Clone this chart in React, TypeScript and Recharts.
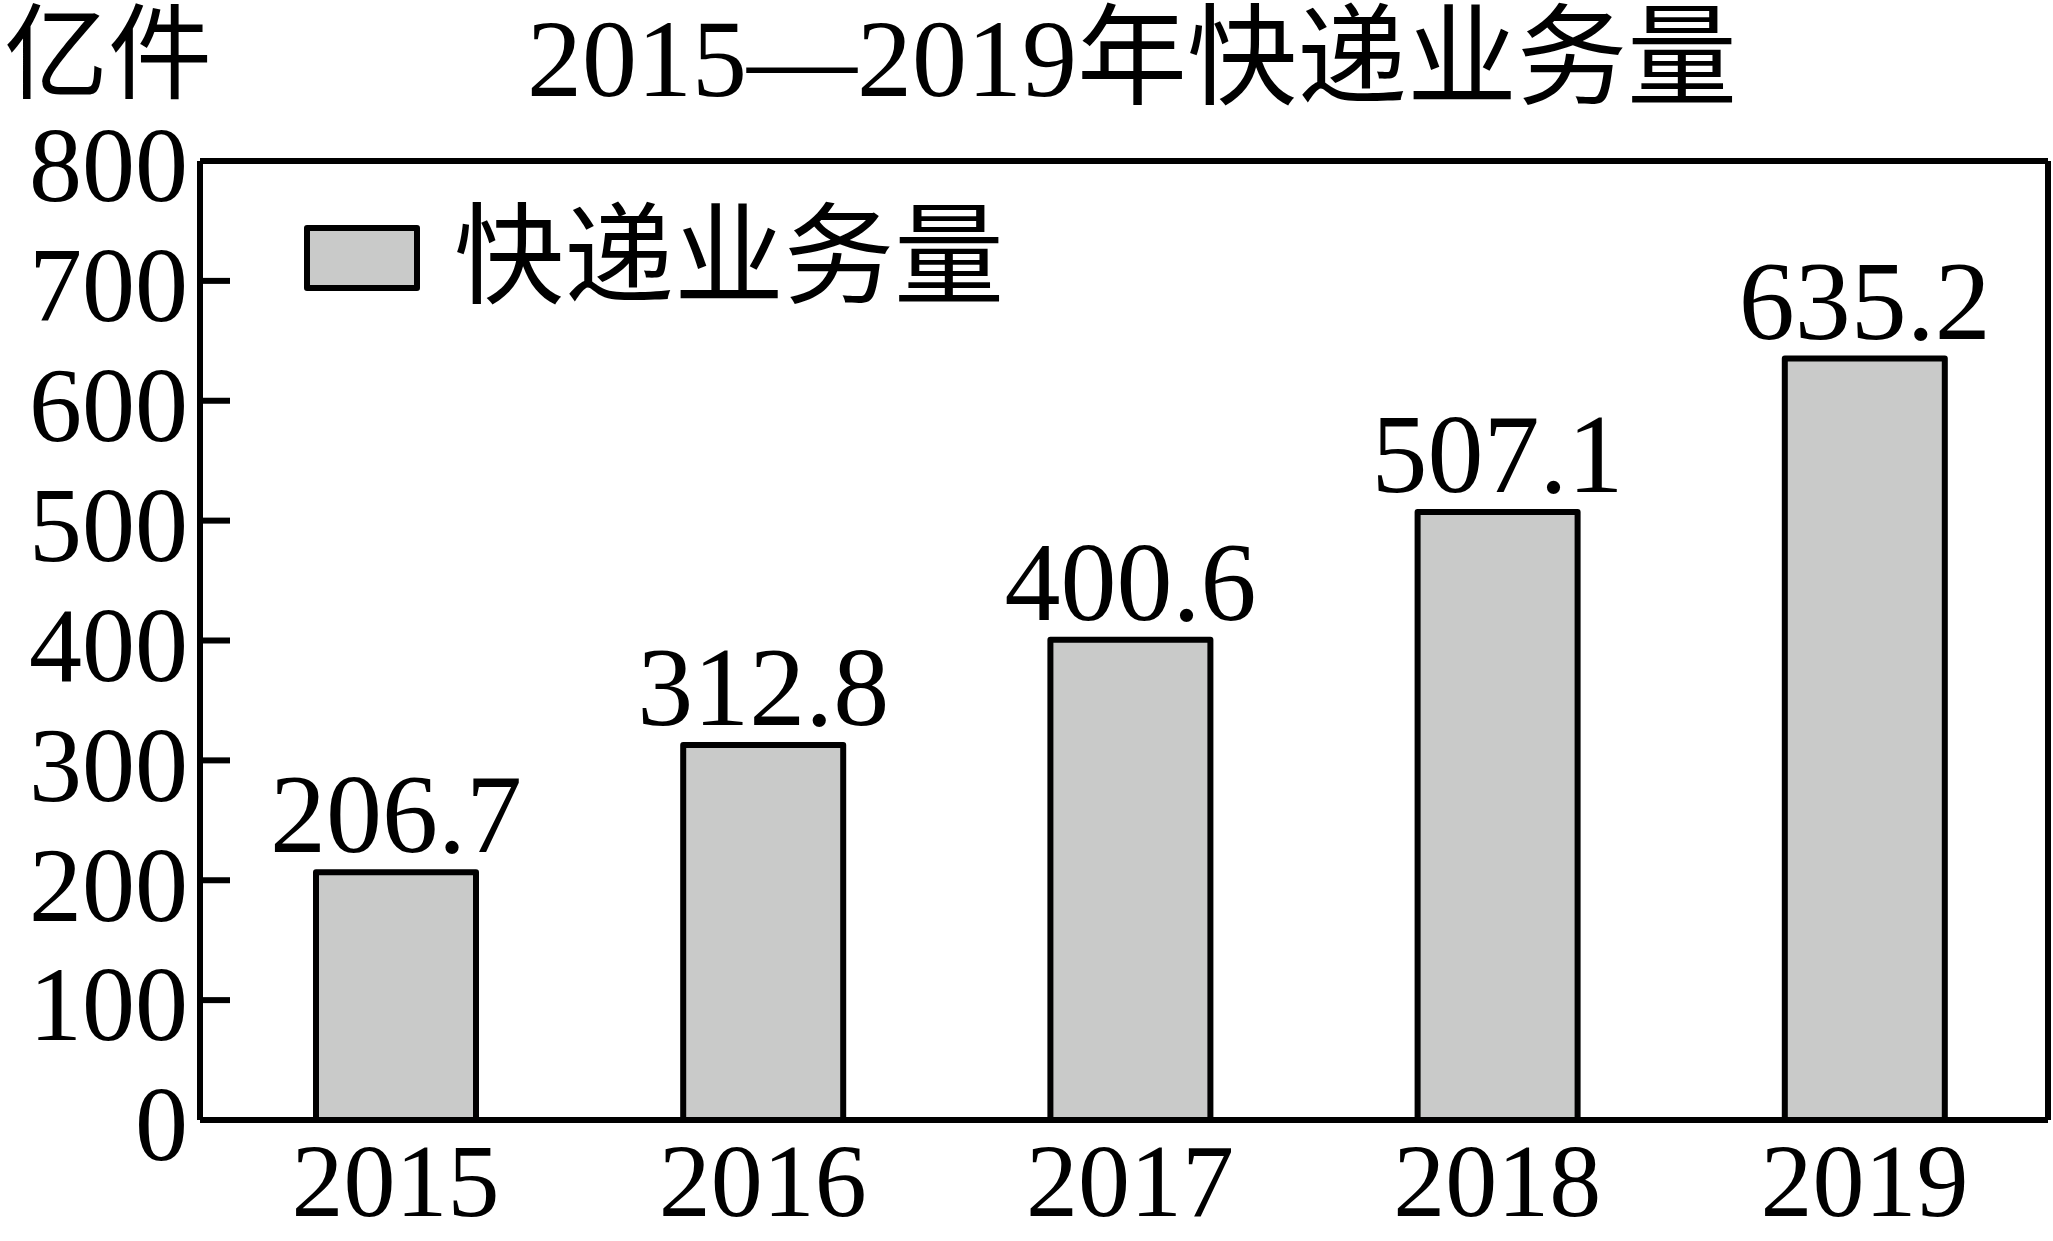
import { Bar, BarChart, LabelList, Legend, XAxis, YAxis } from "recharts";

const years = ["2015", "2016", "2017", "2018", "2019"];
const volumes = [206.7, 312.8, 400.6, 507.1, 635.2];
const yTicks = [0, 100, 200, 300, 400, 500, 600, 700, 800];
const seriesName = "快递业务量";
const chartTitle = "2015—2019年快递业务量";
const unitLabel = "亿件";

const data = years.map((year, i) => ({ year, value: volumes[i] }));

const font = '"Liberation Serif", "Times New Roman", "Noto Sans CJK SC", serif';
const barFill = "#c9cac9";

function YTick(props: any) {
  const { x, y, payload } = props;
  return (
    <g>
      <line x1={x + 12} x2={x + 42} y1={y} y2={y} stroke="#000" strokeWidth={6} />
      <text x={x} y={y} dy="0.38em" textAnchor="end" fontSize={106} fontFamily={font} fill="#000">
        {payload.value}
      </text>
    </g>
  );
}

function LegendContent() {
  return (
    <div style={{ display: "flex", alignItems: "center", fontFamily: font }}>
      <div style={{ width: 104, height: 54, background: barFill, border: "6px solid #000", borderRadius: 3 }} />
      <span style={{ fontSize: 110, lineHeight: 1, marginLeft: 34, color: "#000" }}>{seriesName}</span>
    </div>
  );
}

export default function App() {
  return (
    <div style={{ position: "absolute", left: 0, top: 0, width: 2053, height: 1241, background: "#fff" }}>
      <div style={{ position: "absolute", left: 4, top: 4, fontSize: 104, lineHeight: 1, fontFamily: font }}>{unitLabel}</div>
      <div
        style={{
          position: "absolute",
          left: 0,
          width: 2264,
          top: 4,
          textAlign: "center",
          fontSize: 110,
          lineHeight: 1,
          fontFamily: font,
        }}
      >
        {chartTitle}
      </div>
      <BarChart width={2053} height={1241} data={data} margin={{ top: 160, right: 4, bottom: 0, left: 0 }} barSize={160}>
        <XAxis
          dataKey="year"
          xAxisId="bottom"
          padding={{ left: 12, right: 0 }}
          axisLine={{ stroke: "#000", strokeWidth: 6 }}
          tickLine={false}
          tickSize={0}
          tickMargin={22}
          tick={{ fontSize: 104, fontFamily: font, fill: "#000" }}
          height={121}
        />
        <XAxis dataKey="year" xAxisId="top" orientation="top" height={1} tick={false} tickLine={false} axisLine={{ stroke: "#000", strokeWidth: 6 }} />
        <YAxis
          yAxisId="left"
          width={200}
          domain={[0, 800]}
          ticks={yTicks}
          interval={0}
          axisLine={{ stroke: "#000", strokeWidth: 6 }}
          tickLine={false}
          tickSize={0}
          tickMargin={12}
          tick={<YTick />}
        />
        <YAxis yAxisId="right" orientation="right" width={1} domain={[0, 800]} tick={false} tickLine={false} axisLine={{ stroke: "#000", strokeWidth: 6 }} />
        <Legend
          layout="vertical"
          align="center"
          verticalAlign="middle"
          content={<LegendContent />}
          wrapperStyle={{ top: 203, left: 304, width: 900 }}
        />
        <Bar
          dataKey="value"
          name={seriesName}
          xAxisId="bottom"
          yAxisId="left"
          fill={barFill}
          stroke="#000"
          strokeWidth={6}
          strokeLinejoin="round"
          isAnimationActive={false}
        >
          <LabelList dataKey="value" position="top" offset={20} fontSize={112} fontFamily={font} fill="#000" />
        </Bar>
      </BarChart>
    </div>
  );
}
